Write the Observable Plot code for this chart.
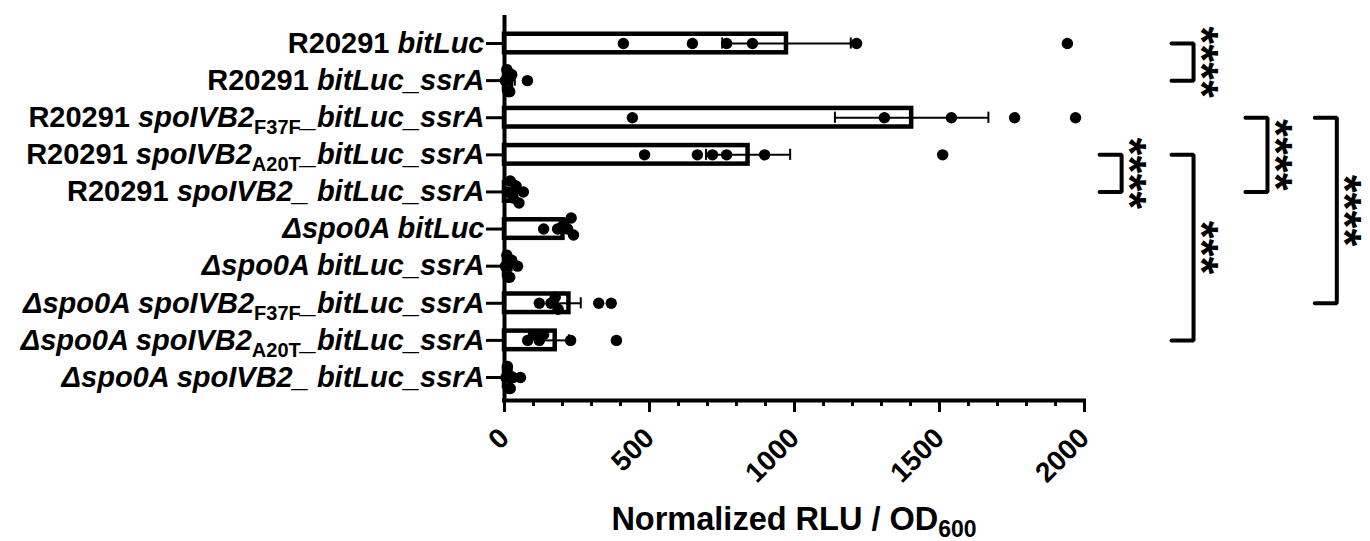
<!DOCTYPE html>
<html><head><meta charset="utf-8">
<script src="https://cdn.jsdelivr.net/npm/d3@7"></script>
<script src="https://cdn.jsdelivr.net/npm/@observablehq/plot@0.6"></script>
<style>
html,body{margin:0;padding:0;background:#fff;}
#chart svg{display:block;}
g[aria-label="stars"] text{letter-spacing:5px;}
</style></head><body><div id="chart"></div>
<script>
// ---- data ----
const categories = [
  "R20291 bitLuc",
  "R20291 bitLuc_ssrA",
  "R20291 spoIVB2F37F_bitLuc_ssrA",
  "R20291 spoIVB2A20T_bitLuc_ssrA",
  "R20291 spoIVB2_ bitLuc_ssrA",
  "Δspo0A bitLuc",
  "Δspo0A bitLuc_ssrA",
  "Δspo0A spoIVB2F37F_bitLuc_ssrA",
  "Δspo0A spoIVB2A20T_bitLuc_ssrA",
  "Δspo0A spoIVB2_ bitLuc_ssrA"
];
// label formatting: n = normal, i = italic, sub = subscript
const labelParts = [
  [["R20291 ","n"],["bitLuc","i"]],
  [["R20291 ","n"],["bitLuc_ssrA","i"]],
  [["R20291 ","n"],["spoIVB2","i"],["F37F","sub"],["_bitLuc_ssrA","i"]],
  [["R20291 ","n"],["spoIVB2","i"],["A20T","sub"],["_bitLuc_ssrA","i"]],
  [["R20291 ","n"],["spoIVB2_ bitLuc_ssrA","i"]],
  [["Δspo0A bitLuc","i"]],
  [["Δspo0A bitLuc_ssrA","i"]],
  [["Δspo0A spoIVB2","i"],["F37F","sub"],["_bitLuc_ssrA","i"]],
  [["Δspo0A spoIVB2","i"],["A20T","sub"],["_bitLuc_ssrA","i"]],
  [["Δspo0A spoIVB2_ bitLuc_ssrA","i"]]
];
// individual replicate values (Normalized RLU / OD600)
const replicates = [
  [410, 648, 766, 855, 1214, 1941],
  [3, 8, 12, 18, 25, 79],
  [441, 1310, 1541, 1759, 1969],
  [483, 665, 717, 766, 897, 1511],
  [10, 20, 30, 40, 50, 65],
  [135, 183, 205, 218, 230, 238],
  [3, 8, 12, 18, 25, 45],
  [120, 160, 175, 185, 325, 368],
  [80, 100, 120, 135, 228, 386],
  [5, 10, 15, 20, 30, 55]
];
const compFrom = [0, 3, 2, 3, 2];
const compTo = [1, 4, 4, 8, 7];
const compStars = ["****", "****", "****", "***", "****"];
const xTicksMajor = [0, 500, 1000, 1500, 2000];
const xTicksMinor = d3.range(0, 2001, 100);

// ---- layout ----
const W = 1370, H = 541, mL = 504, mR = 1370 - 1084, mT = 15, mB = 541 - 400;
const yDomain = [-0.755, 9.62];
const pxPerUnit = (W - mL - mR) / 2000;
const pxPerRow = (H - mT - mB) / (yDomain[1] - yDomain[0]);
const R = 5.7;
const FONT = '"Liberation Sans", Arial, Helvetica, sans-serif';

const summary = categories.map((c, i) => {
  const v = replicates[i];
  const m = d3.mean(v);
  const se = d3.deviation(v) / Math.sqrt(v.length);
  return {i, c, mean: m, lo: m - se, hi: m + se};
});

// simple scatter spreading for overlapping replicate dots
const dots = [];
categories.forEach((c, i) => {
  const placed = [];
  replicates[i].slice().sort((a, b) => a - b).forEach(v => {
    const px = v * pxPerUnit;
    const cands = [0, -6, 6, -11, 11];
    let off = cands[cands.length - 1];
    for (const o of cands) {
      if (placed.every(p => Math.hypot(p.px - px, p.o - o) >= 7)) { off = o; break; }
    }
    placed.push({px, o: off});
    dots.push({i, v, y: i + off / pxPerRow});
  });
});

// significance brackets (x in data units beyond the axis)
const bracketX = [2376, 2128, 2631, 2376, 2870];
const arm = 76;
const bracketPts = compFrom.flatMap((a, k) => {
  const b = compTo[k], x = bracketX[k];
  return [{k, x: x - arm, y: a}, {k, x, y: a}, {k, x, y: b}, {k, x: x - arm, y: b}];
});
const stars = compFrom.map((a, k) => ({x: bracketX[k], y: (a + compTo[k]) / 2, t: compStars[k]}));

const chart = Plot.plot({
  width: W, height: H,
  marginLeft: mL, marginRight: mR, marginTop: mT, marginBottom: mB,
  style: {fontFamily: FONT, color: "#000", background: "#fff", overflow: "visible"},
  x: {domain: [0, 2000]},
  y: {domain: yDomain, reverse: true},
  marks: [
    Plot.rect(summary, {x1: d => 0, x2: "mean", y1: d => d.i - 0.25, y2: d => d.i + 0.25,
      fill: "white", stroke: "black", strokeWidth: 4.5}),
    Plot.ruleY(summary, {y: "i", x1: "lo", x2: "hi", stroke: "black", strokeWidth: 2}),
    Plot.ruleX(summary, {x: "lo", y1: d => d.i - 0.15, y2: d => d.i + 0.15, stroke: "black", strokeWidth: 2}),
    Plot.ruleX(summary, {x: "hi", y1: d => d.i - 0.15, y2: d => d.i + 0.15, stroke: "black", strokeWidth: 2}),
    Plot.dot(dots, {x: "v", y: "y", r: R, fill: "black"}),
    Plot.ruleX([0], {stroke: "black", strokeWidth: 4}),
    Plot.ruleY([yDomain[1]], {stroke: "black", strokeWidth: 4, strokeLinecap: "square"}),
    Plot.axisX({ticks: xTicksMinor, tickSize: 6, tickFormat: () => "", strokeWidth: 3, label: null}),
    Plot.axisX({ticks: xTicksMajor, tickSize: 12, tickPadding: 21, tickRotate: -45, fontSize: 28,
      fontWeight: "bold", strokeWidth: 3, label: null, tickFormat: d3.format("d")}),
    Plot.axisY({ticks: d3.range(10), tickFormat: i => categories[i], tickSize: 18, tickPadding: 2,
      fontSize: 29, fontWeight: "bold", strokeWidth: 3, label: null}),
    Plot.line(bracketPts, {x: "x", y: "y", z: "k", stroke: "black", strokeWidth: 4, strokeLinejoin: "miter"}),
    Plot.text(stars, {x: "x", y: "y", text: "t", rotate: 90, fontSize: 46, fontWeight: "bold",
      dx: 7, ariaLabel: "stars"})
  ]
});

// rich formatting (italic, subscripts) for the y-axis tick labels
const svg = d3.select(chart);
svg.selectAll('g[aria-label="y-axis tick label"] text').each(function () {
  const t = d3.select(this);
  const i = categories.indexOf(t.text());
  if (i < 0) return;
  t.text(null);
  let shifted = false;
  labelParts[i].forEach(([s, st]) => {
    const ts = t.append("tspan").text(s);
    if (st === "i") ts.attr("font-style", "italic");
    if (st === "sub") { ts.attr("font-size", 20).attr("dy", 7); shifted = true; }
    else if (shifted) { ts.attr("dy", -7); shifted = false; }
  });
});

// x-axis title with subscript
const xs = chart.scale("x");
const title = svg.append("text")
  .attr("x", xs.apply(1000)).attr("y", 530)
  .attr("text-anchor", "middle").attr("font-size", 32.5).attr("font-weight", "bold")
  .attr("font-family", FONT).attr("fill", "#000");
title.append("tspan").text("Normalized RLU / OD");
title.append("tspan").text("600").attr("font-size", 23).attr("dy", 7);

document.getElementById("chart").append(chart);
</script>
</body></html>
